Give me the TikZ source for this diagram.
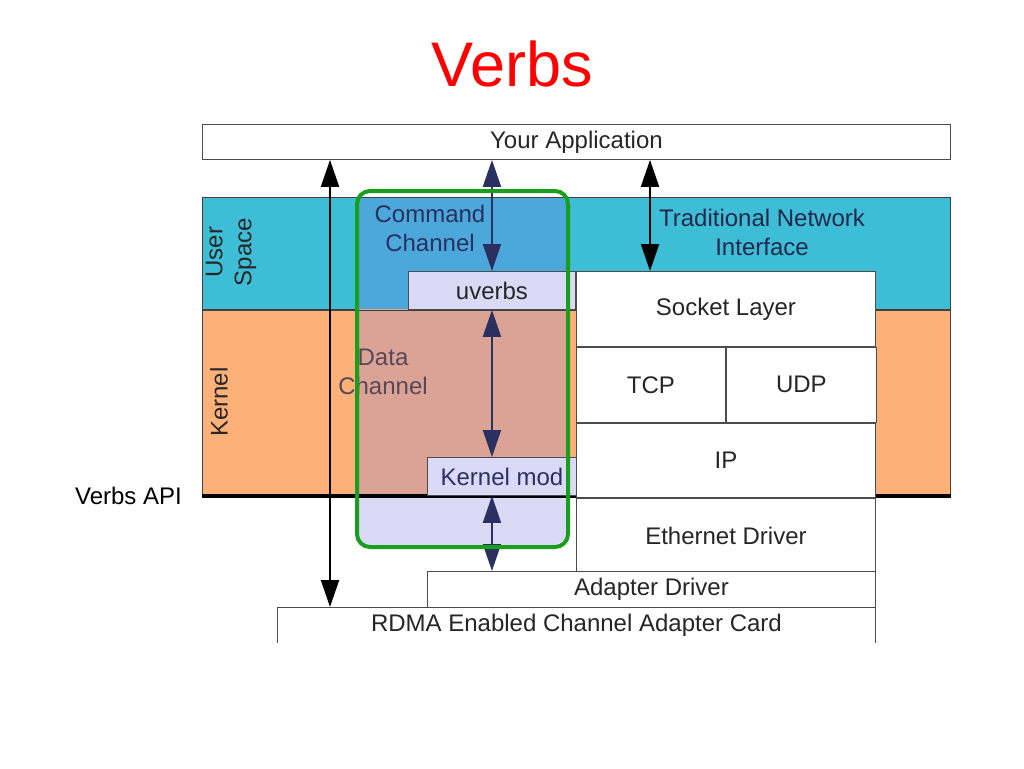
\documentclass[tikz,border=0pt]{standalone}
\usepackage{fontspec}
\setmainfont{Liberation Sans}
\usepackage{xcolor}
\usetikzlibrary{arrows.meta, positioning}

\definecolor{userblue}{RGB}{62,190,214}
\definecolor{kernorange}{RGB}{253,176,120}
\definecolor{cmdblue}{RGB}{76,168,218}
\definecolor{datapink}{RGB}{219,163,150}
\definecolor{lav}{RGB}{218,218,246}
\definecolor{chgreen}{RGB}{26,158,30}
\definecolor{navy}{RGB}{42,48,95}

\begin{document}
\begin{tikzpicture}[
    x=1pt, y=-1pt,
    layer/.style={rectangle, draw=black!70, fill=white, line width=0.9pt, inner sep=0pt, anchor=north west, font=\fontsize{24}{29}\selectfont, text=black!85, align=center},
    band/.style={rectangle, draw=black!75, line width=1pt, inner sep=0pt, anchor=north west},
    lbl/.style={font=\fontsize{24}{29}\selectfont, align=center, inner sep=0pt},
    both/.style={{Triangle[length=27pt,width=18pt]}-{Triangle[length=27pt,width=18pt]}, line width=2pt},
    chan/.style={rectangle, draw=chgreen, line width=4pt, rounded corners=13pt, inner sep=0pt, anchor=north west},
]

\fill[white] (0,0) rectangle (1024,768);

% Title
\node[font=\fontsize{63}{70}\selectfont, text=red] (title) at (512,64) {Verbs};

% Application and bands
\node[layer, minimum width=748, minimum height=35] (app) at (202,124) {Your Application};
\node[band, fill=userblue, minimum width=748, minimum height=112] (user) at (202,197) {};
\node[band, fill=kernorange, minimum width=748, minimum height=186] (kern) at (202,309) {};

% Channel fills
\begin{scope}
    \clip[rounded corners=13pt] (355,189) rectangle (566,545);
    \fill[cmdblue] (355,197) rectangle (566,309);
    \fill[datapink] (355,309) rectangle (566,495);
    \fill[lav] (355,495) rectangle (566,545);
\end{scope}
\draw[black!75, line width=1pt] (user.south west) -- (user.south east);
\draw[black!75, line width=1pt] (user.north west) -- (user.north east);

% Verbs API
\draw[line width=3.5pt] (kern.south west) -- (kern.south east);
\node[lbl, left=20pt of kern.south west] (api) {Verbs API};

% Stack boxes
\node[layer, fill=lav, minimum width=167, minimum height=38] (uverbs) at (408,271) {uverbs};
\node[layer, minimum width=299, minimum height=75] (socket) at (576,271) {Socket Layer};
\node[layer, minimum width=149, minimum height=75] (tcp) at (socket.south west) {TCP};
\node[layer, minimum width=150, minimum height=75] (udp) at (tcp.north east) {UDP};
\node[layer, minimum width=299, minimum height=74] (ip) at (tcp.south west) {IP};
\node[layer, fill=lav, text=navy, minimum width=149, minimum height=38] (kmod) at (427,457) {Kernel mod};
\node[layer, minimum width=299, minimum height=76] (eth) at (ip.south west) {Ethernet Driver};
\node[layer, minimum width=448, minimum height=36] (adapter) at (427,571) {Adapter Driver};
\node[layer, draw=none, minimum width=598, minimum height=35] (rdma) at (277,607) {RDMA Enabled Channel Adapter Card};
\draw[black!70, line width=0.9pt] (rdma.south west) |- (rdma.north east) -- (rdma.south east);

% Labels
\node[lbl, rotate=90, text=black!85] (userlbl) at (231,252) {User\\Space};
\node[lbl, rotate=90, text=black!85] (kernlbl) at (219,402) {Kernel};
\node[lbl, text=navy] (cmdlbl) at (430,228) {Command\\Channel};
\node[lbl, text=navy!80!black] (netlbl) at (762,232) {Traditional Network\\Interface};
\node[lbl, text=navy!70!brown] (datalbl) at (383,372) {Data\\Channel};

% Arrows
\coordinate (lx) at (330,0);
\coordinate (rx) at (650,0);
\draw[both] (app.south -| lx) -- (rdma.north -| lx);
\draw[both, navy] (app.south -| uverbs) -- (uverbs.north);
\draw[both, navy] (uverbs.south) -- (kmod.north -| uverbs);
\draw[both, navy] (kmod.south -| uverbs) -- (adapter.north -| uverbs);
\draw[both] (app.south -| rx) -- (socket.north -| rx);

% Channel outline
\node[chan, minimum width=211, minimum height=356] (chbox) at (355,189) {};

\end{tikzpicture}
\end{document}
